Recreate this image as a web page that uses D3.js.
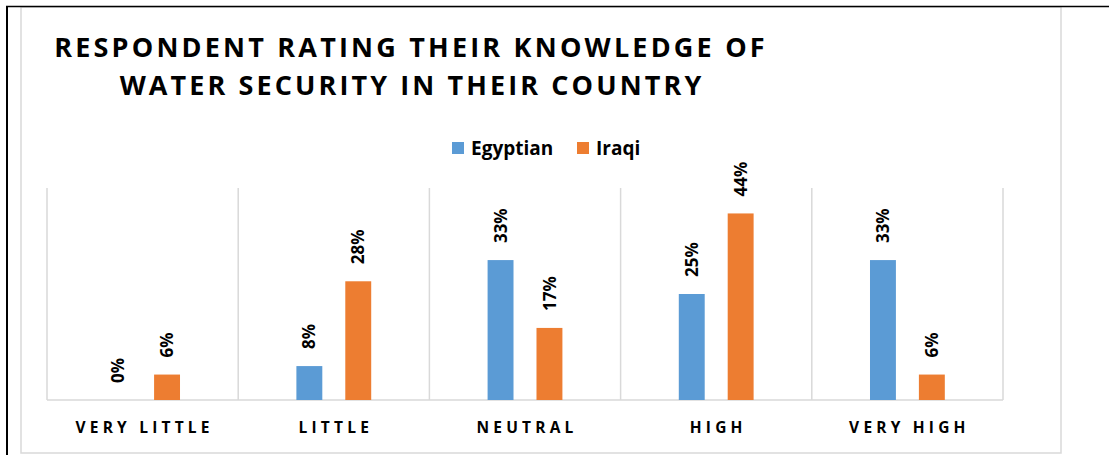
<!DOCTYPE html>
<html>
<head>
<meta charset="utf-8">
<script src="https://cdn.jsdelivr.net/npm/d3@7/dist/d3.min.js"></script>
<style>
  html, body { margin: 0; padding: 0; background: #ffffff; }
  svg { display: block; }
  text { font-family: "Open Sans", Lato, sans-serif; font-weight: 700; fill: #000; }
</style>
</head>
<body>
<svg id="chart" width="1109" height="455"></svg>
<script>
// Knowledge rating categories and the share of respondents in each group (%)
const categories = ["VERY LITTLE", "LITTLE", "NEUTRAL", "HIGH", "VERY HIGH"];
const seriesNames = ["Egyptian", "Iraqi"];
const egyptian = [0, 8, 33, 25, 33];
const iraqi = [6, 28, 17, 44, 6];
const seriesColors = ["#5B9BD5", "#ED7D31"];
const titleLines = ["RESPONDENT RATING THEIR KNOWLEDGE OF", "WATER SECURITY IN THEIR COUNTRY"];

const seriesValues = [egyptian, iraqi];
const svg = d3.select("#chart");

// page frame (black edges) and the chart area box
svg.append("rect").attr("x", 21).attr("y", 7).attr("width", 1040).attr("height", 446)
  .attr("fill", "#fff").attr("stroke", "#d9d9d9").attr("stroke-width", 1.5);
svg.append("line").attr("x1", 7).attr("x2", 7).attr("y1", 6).attr("y2", 455)
  .attr("stroke", "#000").attr("stroke-width", 2);
svg.append("line").attr("x1", 6).attr("x2", 1109).attr("y1", 6.5).attr("y2", 6.5)
  .attr("stroke", "#000").attr("stroke-width", 1.5);

// title
const title = svg.append("g");
title.append("text").attr("x", 411).attr("y", 57).attr("text-anchor", "middle")
  .attr("font-size", 27).attr("letter-spacing", "3.2px").text(titleLines[0]);
title.append("text").attr("x", 412).attr("y", 95).attr("text-anchor", "middle")
  .attr("font-size", 27).attr("letter-spacing", "3.1px").text(titleLines[1]);

// legend
const legendX = [452, 577];
const legend = svg.append("g");
seriesNames.forEach((name, i) => {
  legend.append("rect").attr("x", legendX[i]).attr("y", 142).attr("width", 12).attr("height", 12)
    .attr("fill", seriesColors[i]);
  legend.append("text").attr("x", legendX[i] + 19).attr("y", 154.5)
    .attr("font-size", 19).text(name);
});

// scales
const x0 = d3.scaleBand().domain(categories).range([47, 1003]).paddingInner(0).paddingOuter(0);
const x1 = d3.scaleBand().domain(seriesNames).range([0, x0.bandwidth()])
  .paddingInner(0.47).paddingOuter(1.19);
const y = d3.scaleLinear().domain([0, 50]).range([400, 188]);

// vertical separators between categories
const plot = svg.append("g");
const bounds = categories.map(c => x0(c)).concat([x0.range()[1]]);
plot.selectAll("line.sep").data(bounds).join("line").attr("class", "sep")
  .attr("x1", d => d).attr("x2", d => d).attr("y1", y(50)).attr("y2", y(0))
  .attr("stroke", "#d9d9d9").attr("stroke-width", 1.5);
plot.append("line").attr("x1", x0.range()[0]).attr("x2", x0.range()[1])
  .attr("y1", y(0)).attr("y2", y(0)).attr("stroke", "#d9d9d9").attr("stroke-width", 1.5);

// bars
const rows = [];
categories.forEach((c, ci) => seriesNames.forEach((s, si) => {
  rows.push({ cat: c, series: s, value: seriesValues[si][ci], color: seriesColors[si] });
}));
plot.selectAll("rect.bar").data(rows).join("rect").attr("class", "bar")
  .attr("x", d => x0(d.cat) + x1(d.series)).attr("width", x1.bandwidth())
  .attr("y", d => y(d.value)).attr("height", d => y(0) - y(d.value))
  .attr("fill", d => d.color);

// value labels, rotated
plot.selectAll("text.val").data(rows).join("text").attr("class", "val")
  .attr("transform", d => `translate(${x0(d.cat) + x1(d.series) + x1.bandwidth() / 2},${y(d.value) - 17}) rotate(-90)`)
  .attr("dy", "0.36em").attr("font-size", 17).text(d => d.value + "%");

// category axis labels
plot.selectAll("text.cat").data(categories).join("text").attr("class", "cat")
  .attr("x", d => x0(d) + x0.bandwidth() / 2 + 2).attr("y", 433).attr("text-anchor", "middle")
  .attr("font-size", 15.5).attr("letter-spacing", "4.2px").text(d => d);
</script>
</body>
</html>
